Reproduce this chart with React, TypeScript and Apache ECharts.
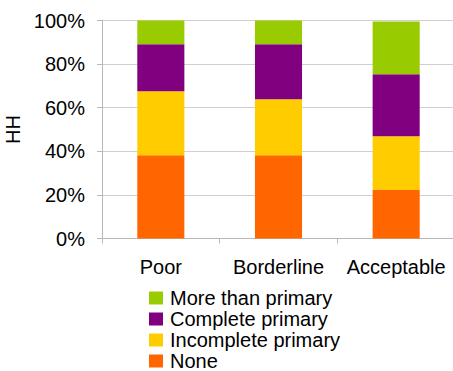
import React, { useEffect, useRef } from "react";
import * as echarts from "echarts";

// Household shares by food-consumption group and education level of the head
const categories = ["Poor", "Borderline", "Acceptable"];
const noneVals = [38.2, 38.2, 22.2];
const incompleteVals = [29.4, 25.7, 24.7];
const completeVals = [21.5, 25.2, 28.5];
const moreVals = [10.9, 10.9, 24.1];
const yTicks = [0, 20, 40, 60, 80, 100];

const FONT = "'Liberation Sans', Arial, sans-serif";

export default function App() {
  const ref = useRef<HTMLDivElement>(null);

  useEffect(() => {
    if (!ref.current) return;
    const chart = echarts.init(ref.current, null, { renderer: "svg" });

    const mk = (name: string, data: number[], color: string) => ({
      name,
      type: "bar",
      stack: "total",
      barWidth: "40%",
      data,
      itemStyle: { color },
    });

    chart.setOption({
      animation: false,
      backgroundColor: "#ffffff",
      textStyle: { fontFamily: FONT },
      grid: {
        left: 102,
        right: -2,
        top: 20.5,
        bottom: 132.5,
        containLabel: false,
        outerBoundsMode: "none",
      },
      legend: {
        orient: "vertical",
        left: 149,
        top: 287.5,
        height: 90,
        padding: 0,
        itemWidth: 14,
        itemHeight: 13,
        itemGap: 0,
        icon: "rect",
        data: ["More than primary", "Complete primary", "Incomplete primary", "None"],
        textStyle: {
          fontFamily: FONT,
          fontSize: 20,
          color: "#000",
          lineHeight: 21,
          padding: [0, 0, 0, 2],
        },
      },
      xAxis: {
        type: "category",
        data: categories,
        axisLine: { show: true, lineStyle: { color: "#b8b8b8", width: 1 } },
        axisTick: { show: true, length: 5, lineStyle: { color: "#b8b8b8" } },
        axisLabel: {
          interval: 0,
          fontSize: 20,
          color: "#000",
          margin: 18,
          fontFamily: FONT,
        },
        splitLine: { show: false },
      },
      yAxis: {
        type: "value",
        min: yTicks[0],
        max: yTicks[yTicks.length - 1],
        interval: 20,
        name: "HH",
        nameLocation: "middle",
        nameGap: 68,
        nameTextStyle: { fontSize: 20, color: "#000", fontFamily: FONT },
        axisLine: { show: true, lineStyle: { color: "#b8b8b8", width: 1 } },
        axisTick: { show: true, length: 5, lineStyle: { color: "#b8b8b8" } },
        axisLabel: {
          fontSize: 20,
          color: "#000",
          margin: 17,
          fontFamily: FONT,
          formatter: (v: number) => `${v}%`,
        },
        splitLine: { show: true, lineStyle: { color: "#d0d0d0", width: 1 } },
      },
      series: [
        mk("None", noneVals, "#ff6600"),
        mk("Incomplete primary", incompleteVals, "#ffcc00"),
        mk("Complete primary", completeVals, "#800080"),
        mk("More than primary", moreVals, "#99cc00"),
      ],
    });

    return () => chart.dispose();
  }, []);

  return (
    <div
      ref={ref}
      style={{ position: "absolute", left: 0, top: 0, width: 453, height: 371 }}
    />
  );
}
